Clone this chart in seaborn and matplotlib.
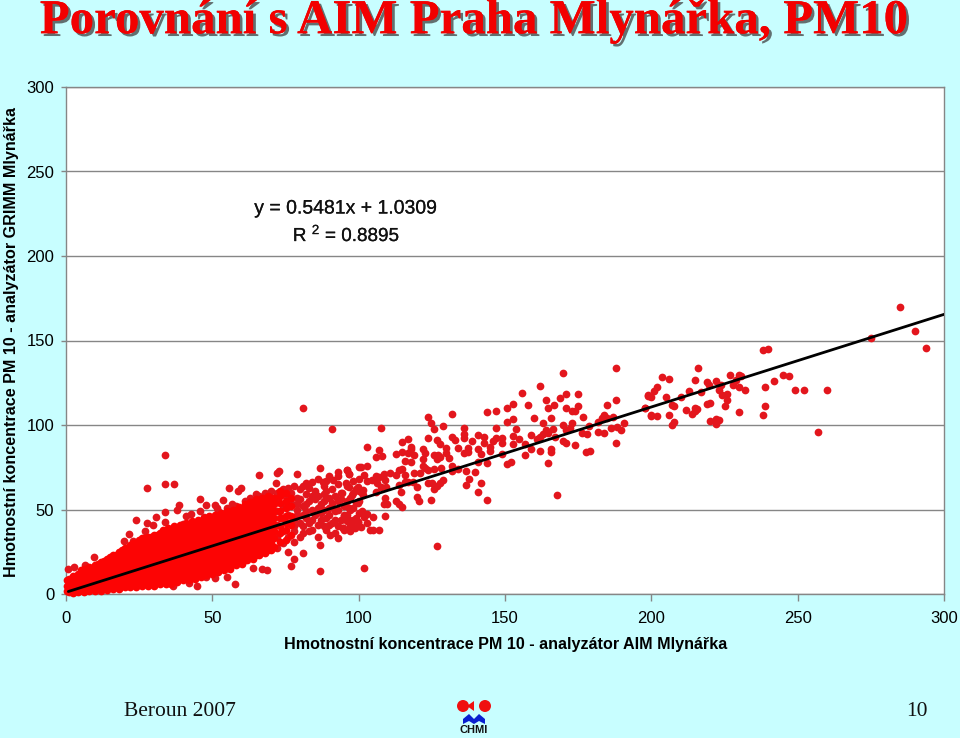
import matplotlib
matplotlib.use("Agg")
import matplotlib.pyplot as plt
import matplotlib.patheffects as pe
from matplotlib.patches import Ellipse, Polygon
import seaborn as sns
import pandas as pd

title = "Porovnání s AIM Praha Mlynářka, PM10"
xlabel = "Hmotnostní koncentrace PM 10 - analyzátor AIM Mlynářka"
ylabel = "Hmotnostní koncentrace PM 10 - analyzátor GRIMM Mlynářka"
ticks = [0, 50, 100, 150, 200, 250, 300]
slope = 0.5481
intercept = 1.0309
trend_x = [0.8, 300]

# the solid cloud, read column by column
dense_x = [0.5, 1, 2.5, 4, 6, 8, 10, 12, 14, 16, 18, 20, 22, 24, 26, 28, 30, 32, 34, 36, 38, 40, 42, 44, 46, 48,
           50, 52, 54, 56, 58, 60, 62, 64, 66, 68, 70]
dense_y = [
    [2, 5, 8],
    [1, 3, 5, 7, 9],
    [0.5, 3, 5.5, 8, 10.5],
    [1, 3, 6, 9, 12],
    [1, 4, 7, 10, 13, 15],
    [1.5, 4, 7, 10, 13, 16],
    [2, 5, 8, 11, 14, 17],
    [2, 5, 8, 11, 14, 17, 19],
    [2.5, 6, 9, 12, 15, 18, 21],
    [3, 6, 9, 12, 15, 18, 21, 23],
    [3, 6.5, 10, 13, 16, 19, 22, 25],
    [4, 7, 10, 13, 16, 19, 22, 25, 27],
    [4, 7, 10, 14, 17, 20, 23, 26, 29],
    [4, 8, 11, 14, 18, 21, 24, 27, 30],
    [5, 8, 12, 15, 18, 22, 25, 28, 31, 33],
    [5, 8, 12, 15, 19, 22, 25, 28, 31, 34],
    [5, 9, 12, 16, 20, 23, 26, 30, 33, 35],
    [6, 10, 13, 17, 20, 24, 27, 30, 33, 36],
    [6, 10, 14, 18, 21, 25, 28, 31, 34, 37],
    [6, 11, 15, 18, 22, 26, 29, 32, 35, 38],
    [7, 11, 15, 19, 23, 27, 30, 33, 36, 39],
    [8, 12, 16, 20, 24, 28, 31, 34, 37, 40],
    [8, 13, 17, 21, 25, 29, 32, 35, 38, 41],
    [9, 13, 17, 21, 25, 29, 33, 36, 39, 42],
    [10, 14, 18, 22, 26, 30, 34, 37, 40, 43],
    [11, 15, 19, 23, 27, 31, 35, 38, 41, 44],
    [12, 16, 20, 24, 28, 32, 36, 39, 42, 45],
    [13, 17, 21, 25, 29, 33, 37, 40, 43, 46],
    [14, 18, 22, 26, 30, 34, 38, 41, 44, 47],
    [15, 19, 23, 27, 31, 35, 39, 42, 45, 48],
    [17, 20, 24, 28, 32, 36, 40, 43, 46, 49],
    [18, 22, 26, 30, 34, 38, 42, 45, 48, 50],
    [20, 24, 28, 32, 36, 40, 44, 47, 50, 52],
    [21, 25, 29, 33, 37, 41, 45, 48, 51, 54],
    [23, 26, 30, 34, 38, 42, 46, 49, 52, 55],
    [24, 27, 31, 35, 39, 43, 47, 50, 53, 56],
    [26, 30, 35, 40, 44, 47, 50, 54, 57],
]

# same cloud, the columns in between
between_x = [3, 5, 7, 9, 11, 13, 15, 17, 19, 21, 23, 25, 27, 29, 31, 33, 35, 37, 39, 41, 43, 45, 47, 49, 51, 53, 55,
             57, 59, 61, 63, 65, 67, 69, 71, 73, 75, 77]
between_y = [
    [2, 4.5, 7, 10],
    [2.5, 5.5, 8.5, 11.5, 14],
    [3, 6, 9, 12, 15],
    [3.5, 6.5, 9.5, 12.5, 15.5],
    [3.5, 6.5, 9.5, 12.5, 15.5, 18],
    [4, 7.5, 10.5, 13.5, 16.5, 19.5],
    [4.5, 7.5, 10.5, 13.5, 16.5, 19.5, 22],
    [5, 8, 11, 14, 17, 20, 23],
    [5, 8.5, 11.5, 14.5, 17.5, 20.5, 23.5, 26],
    [5.5, 8.5, 12, 15, 18, 21, 24, 27],
    [6, 9, 12.5, 15.5, 19, 22, 25, 28, 30],
    [6.5, 10, 13, 16.5, 20, 23, 26, 29, 32],
    [6.5, 10, 14, 17, 20.5, 24, 27, 30, 33],
    [7, 10.5, 14, 18, 21, 24.5, 28, 31, 34],
    [7.5, 11.5, 15, 18.5, 22, 25.5, 28.5, 32, 35],
    [8, 12, 16, 19.5, 23, 26.5, 29.5, 32.5, 35.5, 38],
    [8.5, 12.5, 16.5, 20, 24, 27.5, 30.5, 33.5, 36.5, 39],
    [9, 13, 17, 21, 25, 28.5, 31.5, 34.5, 37.5, 40],
    [9.5, 13.5, 17.5, 21.5, 25.5, 29.5, 32.5, 35.5, 38.5, 41],
    [10, 14.5, 18.5, 22.5, 26.5, 30, 33.5, 36.5, 39.5, 42],
    [11, 15, 19, 23, 27, 31, 34.5, 37.5, 40.5, 43],
    [12, 15.5, 19.5, 23.5, 27.5, 31.5, 35.5, 38.5, 41.5, 44],
    [12.5, 16.5, 20.5, 24.5, 28.5, 32.5, 36.5, 39.5, 42.5, 45],
    [13.5, 18, 22, 26, 30, 34, 37.5, 40.5, 43.5, 46],
    [14.5, 19, 23, 27, 31, 35, 38.5, 41.5, 44.5, 47],
    [15.5, 20, 24, 28, 32, 36, 39.5, 42.5, 45.5, 48],
    [17, 21, 25, 29, 33, 37, 40.5, 43.5, 46.5, 49],
    [18, 22, 26, 30, 34, 38, 41.5, 44.5, 47.5, 50],
    [19, 23, 27, 31, 35, 39, 43, 46, 49, 51.5],
    [20, 24, 28, 32, 36, 40, 44, 47, 50, 53],
    [22, 26, 30, 34, 38, 42, 46, 49, 52, 54.5],
    [23, 27, 31, 35, 39, 43, 47, 50, 53, 56],
    [25, 29, 33, 37, 41, 45, 48.5, 51.5, 54.5, 57],
    [26, 30, 34, 38, 42, 46, 50, 53, 56, 58],
    [28, 33, 37, 41, 45, 49, 53, 57],
    [31, 36, 40, 45, 49, 54, 58, 61],
    [32, 38, 42, 46, 51, 55, 60],
    [35, 41, 46, 52, 57],
]

# loose dots around the cloud, x from 70 up to 100
fringe = [(72, 27), (72, 34), (72, 41), (72, 49), (72, 55), (73, 59), (74, 30), (74, 37), (74, 45), (74, 52), (75, 58),
          (76, 34), (76, 42), (76, 47), (77, 54), (77, 60), (78, 31), (78, 37), (78, 44), (79, 50), (79, 57), (80, 62),
          (80, 34), (81, 40), (81, 47), (82, 53), (82, 59), (83, 63), (83, 37), (84, 44), (84, 50), (85, 56), (85, 61),
          (86, 34), (86, 41), (87, 48), (87, 53), (88, 59), (88, 64), (89, 38), (89, 45), (90, 51), (90, 57), (91, 62),
          (91, 42), (92, 36), (92, 49), (93, 55), (93, 65), (94, 44), (94, 60), (95, 38), (95, 52), (96, 64), (96, 47),
          (97, 41), (97, 57), (98, 67), (98, 51), (99, 45), (99, 62), (100, 55), (100, 68), (101, 49), (101, 60),
          (78, 40), (79, 47), (79, 53), (80, 42), (80, 56), (81, 36), (81, 52), (82, 45), (82, 49), (83, 42), (83, 55),
          (84, 38), (84, 58), (85, 47), (86, 51), (86, 58), (87, 44), (88, 40), (88, 50), (88, 55), (89, 61), (90, 41),
          (90, 47), (91, 54), (92, 44), (92, 58), (93, 40), (93, 50), (94, 56), (95, 47), (96, 43), (96, 55), (97, 50),
          (98, 44), (98, 60), (99, 54), (100, 48), (100, 61), (52, 49), (55, 51), (58, 52), (61, 55), (63, 57), (66, 58),
          (68, 60), (70, 61), (72, 60), (74, 62), (76, 63), (78, 64), (81, 64), (84, 66), (86, 68), (89, 67), (90, 70),
          (93, 72)]

outliers = [(80.9, 109.9), (90.8, 97.4), (33.7, 82.5), (27.8, 62.5), (33.7, 65.1), (36.8, 65.1), (65.8, 70.4),
            (72, 71.4), (72.9, 73), (78.8, 71), (86.8, 74.6), (71.8, 65.5), (55.8, 62.5), (58.9, 61.2), (59.8, 62.5),
            (45.8, 56.4), (53.8, 55.6), (64.8, 59.2), (95.9, 73.4), (96.8, 71), (100.1, 75.4), (92.8, 69.8),
            (91.4, 67.5), (87.8, 66.1), (81.9, 65.9), (38.7, 52.9), (47.7, 52.7), (50.8, 52.9), (51.7, 50.7),
            (56.8, 53.1), (33.7, 48.7), (37.8, 49.7), (23.8, 43.8), (30.9, 45.8), (41, 46.2), (42.8, 47.4),
            (45.8, 49.3), (47, 45.4), (27.8, 42.2), (29.8, 40.8), (33.7, 42.8), (39.9, 41.4), (21.6, 35.5),
            (26.9, 37.1), (19.7, 31.2), (22.8, 31.4), (9.7, 21.7), (2.7, 16.2), (0.8, 15), (6.6, 17.2), (86.8, 13.8),
            (76.8, 16.8), (77.9, 20.7), (68.8, 14.2), (66.9, 14.8), (63.8, 15.2), (57.9, 6.1), (44.8, 4.8),
            (50.8, 9.3), (54.9, 9.9), (47.7, 10.3), (36.7, 4.8), (41.9, 6.5), (75.7, 24.9), (80.9, 24.1), (86.8, 29.2),
            (92.8, 33), (90.2, 35), (94.8, 38.9), (99.9, 42.8), (97, 37.5)]

# middle part of the chart, x from 94 to 200
middle = [(187.9, 133.5), (169.9, 130.8), (161.9, 123.1), (155.8, 118.7), (170.9, 118.4), (174.9, 118.2),
          (168.9, 115.8), (163.9, 114.6), (187.9, 114.8), (166.8, 111.8), (157.9, 112), (152.8, 112.4), (150.8, 109.9),
          (146.9, 108.3), (143.8, 107.9), (164.8, 110.1), (170.9, 110.3), (173, 108.5), (174, 108.5), (174.9, 111),
          (184.9, 111.6), (131.9, 106.5), (123.8, 105), (124.8, 101.2), (128.9, 99.4), (125.8, 97.4), (107.8, 98.2),
          (136, 98.2), (146.9, 98.2), (150.8, 101.8), (152.8, 103.4), (160, 104.4), (162.9, 101.4), (165.8, 104.4),
          (153.9, 97.6), (158.9, 94.3), (152.8, 93.3), (154.9, 91.5), (140.9, 94.1), (142.8, 92.7), (136, 94.5),
          (136, 92.5), (131.9, 92.9), (132.9, 91.1), (138.8, 90.5), (146.9, 92.3), (145.9, 90.7), (148.9, 92.3),
          (148.9, 89.6), (142.8, 89.2), (144.9, 87.2), (144.9, 84.6), (152.8, 88.6), (156.9, 88.6), (158.9, 85.8),
          (161.9, 84.4), (165.8, 85.8), (165.8, 84), (156.9, 82.5), (148.9, 83.1), (123.8, 92.1), (126.7, 91.1),
          (127.8, 88.6), (116.8, 91.5), (114.8, 89.8), (117.9, 87.2), (117.9, 85.8), (102.8, 87.2), (106.9, 85),
          (105.9, 81.3), (108, 81.9), (112.7, 82.9), (114.8, 84), (116.8, 83.3), (118.9, 82.5), (122, 85.8),
          (122.8, 83.3), (122, 80.1), (115.8, 78.9), (117.9, 78.3), (129.8, 86.2), (129.8, 83.6), (130.8, 80.3),
          (133.9, 86.4), (136, 83.3), (137.2, 86.2), (137.2, 84.2), (140.9, 85.6), (141.8, 82.7), (140.9, 78.3),
          (143.8, 77.7), (125.7, 82.3), (127.2, 82.3), (126.6, 79.7), (127.8, 80.9), (150.8, 77.1), (151.9, 78.1),
          (164.8, 77.7), (177.8, 84), (179, 84.6), (174, 88.4), (187.9, 89.2), (171, 89.2), (169.9, 90.3), (161, 91.5),
          (161.9, 93.1), (162.9, 94.5), (163.9, 97.1), (164.8, 95.1), (166.5, 97.4), (167, 92.7), (169.9, 100),
          (171, 97.1), (173, 101.4), (172.2, 98), (176.7, 104.5), (176.2, 95.5), (177.9, 94.7), (178.8, 99.4),
          (181.9, 102), (181.9, 96), (183.9, 95.1), (183.9, 106), (183, 104), (184.9, 104), (187, 105), (186.1, 98),
          (190.8, 101), (189.8, 97), (188.1, 98.6), (199, 117.4), (197.9, 109.9), (200, 105.3), (167.9, 58.6),
          (126.7, 28.4), (101.8, 15.4), (143.8, 55.4), (140.9, 60.2), (136.8, 64.3), (137.8, 67.9), (141.9, 65.5),
          (139.7, 72.2), (136.8, 73), (131.9, 75.8), (133.9, 73.8), (131.9, 73), (128.9, 67.5), (127.8, 65.5),
          (125.8, 62.2), (126.9, 64), (124.8, 55.6), (124.9, 65.5), (123.8, 65.5), (120.7, 55.2), (119.9, 57.6),
          (119.9, 63.1), (118.9, 71.8), (120.9, 71.8), (122.8, 74.4), (122, 75.8), (123.8, 73.4), (125.8, 73.8),
          (128.1, 74.6), (114.8, 74), (113.8, 73.4), (115.8, 70.4), (112.7, 70.4), (110.7, 71.4), (108.6, 71),
          (106.9, 69.4), (105.9, 69.8), (104.5, 67.5), (102.8, 66.9), (101.8, 70.4), (100.8, 75.2), (102.8, 75.8),
          (95.9, 73.4), (96.7, 71), (113.9, 64.5), (115.8, 66.5), (116.9, 66.5), (118.4, 66.5), (114.3, 60.6),
          (109, 56.6), (108.6, 53.3), (109.8, 53.3), (112.7, 55.3), (113.9, 53.3), (114.8, 51.7), (109, 46.4),
          (106.9, 37.9), (104.9, 37.9), (103.9, 37.9), (104.9, 45.6), (102.8, 47.2), (101.8, 45.6), (102.8, 42.2),
          (100.8, 39.5), (98.7, 38.9), (99.8, 42.8), (97.7, 42.8), (96.7, 43.8), (95, 46.4), (97, 38.9), (94.7, 39.3),
          (96.7, 50.7), (99.9, 53.7), (97.7, 58.6), (101.6, 61.6), (101.6, 58.6), (99.9, 63.5), (105.9, 60.6),
          (107.8, 63.5), (109.5, 63.5), (106.1, 65.5), (109, 67.5), (96.7, 63.5), (95.6, 65.5), (94.2, 59.6)]

# right hand part, x above 196
high = [(285, 170), (290.1, 155.8), (294, 145.4), (275, 151.7), (238, 144.2), (240, 144.8), (215.8, 133.9),
        (203.8, 128.6), (205.9, 127), (202, 122.3), (201, 120), (199, 117.6), (200, 116.8), (204.9, 116.4),
        (197.8, 110), (200, 106), (202, 105.6), (205.9, 106), (206.9, 111.7), (207.8, 111), (210, 116.4), (213, 120.1),
        (214.9, 126.7), (216.8, 119.8), (218.9, 125.7), (219.8, 123.5), (222, 126.3), (223.9, 123.9), (223, 120.5),
        (224, 117.8), (226, 118.6), (226, 114.8), (225, 111), (227, 129.4), (229.8, 129.4), (230.8, 129),
        (228.9, 126.7), (228, 123.7), (229.9, 122.5), (232, 120.7), (239, 122.7), (241.9, 126.3), (245, 129.4),
        (247, 129.2), (249, 121), (252, 121), (260, 120.5), (257, 95.7), (239, 111.3), (238, 106.2), (230, 107.5),
        (219.9, 102.4), (222, 103.6), (223, 102.8), (222, 100.6), (219.9, 113.2), (218.9, 112.5), (215.7, 109.7),
        (214.9, 110.1), (214.9, 108.5), (214, 106.7), (212, 109.1), (207.8, 102), (206.9, 100.2)]

sns.set_theme(style="white")
plt.rcParams["font.family"] = ["Liberation Sans", "DejaVu Sans"]
plt.rcParams["mathtext.default"] = "regular"

bg = "#C8FEFF"
grey = "#868686"

fig = plt.figure(figsize=(9.6, 7.38), dpi=100, facecolor=bg)
ax = fig.add_axes([66 / 960, 1 - 594 / 738, 878 / 960, 507 / 738], facecolor="white")

cloud_x = dense_x + between_x
cloud_y = dense_y + between_y
dense = pd.DataFrame({"x": [x for x, ys in zip(cloud_x, cloud_y) for _ in ys],
                      "y": [y for ys in cloud_y for y in ys]})
loose = pd.DataFrame(fringe + outliers + middle + high, columns=["x", "y"])
trend = pd.DataFrame({"x": trend_x, "y": [slope * x + intercept for x in trend_x]})

sns.scatterplot(data=loose, x="x", y="y", color="#E3161D", s=31, linewidth=0, ax=ax, zorder=3, clip_on=False)
sns.scatterplot(data=dense, x="x", y="y", color="#FC0404", s=31, linewidth=0, ax=ax, zorder=3, clip_on=False)
sns.lineplot(data=trend, x="x", y="y", color="black", linewidth=2, ax=ax, zorder=4)

ax.set_xlim(0, 300)
ax.set_ylim(0, 300)
ax.set_xticks(ticks)
ax.set_yticks(ticks)
ax.grid(axis="y", color=grey, linewidth=1)
ax.set_axisbelow(True)
ax.tick_params(axis="y", length=3.5, width=1, color=grey, labelsize=12, labelcolor="black", left=True, pad=5)
ax.tick_params(axis="x", length=5, width=1, color=grey, labelsize=12, labelcolor="black", bottom=True, pad=7)
for side in ax.spines.values():
    side.set_color(grey)
    side.set_linewidth(1)

ax.set_xlabel("")
ax.set_ylabel("")
fig.text(505.5 / 960, 1 - 645 / 738, xlabel, ha="center", va="center", fontsize=11.65, fontweight="bold", color="black")
fig.text(12 / 960, 1 - 342 / 738, ylabel, rotation=90, ha="center", va="center", fontsize=11.65, fontweight="bold",
         color="black")

eq_style = [pe.withStroke(linewidth=0.15, foreground="#111111")]
fig.text(346 / 960, 1 - 209 / 738, f"y = {slope}x + {intercept}", ha="center", va="center", fontsize=14,
         color="#111111", path_effects=eq_style)
fig.text(346.5 / 960, 1 - 235 / 738, "R $^{2}$ = 0.8895", ha="center", va="center", fontsize=13.6, color="#111111",
         path_effects=eq_style)

head = fig.text(474 / 960, 1 - 21 / 738, title, ha="center", va="center", fontsize=35.2, fontweight="bold",
                family="Liberation Serif", color="#F20000")
head.set_path_effects([pe.withSimplePatchShadow(offset=(2, -2), shadow_rgbFace="#404040", alpha=0.75), pe.Normal()])

fig.text(124 / 960, 1 - 711 / 738, "Beroun 2007", ha="left", va="center", fontsize=15.5, family="Liberation Serif",
         color="#111111")
fig.text(928 / 960, 1 - 712 / 738, "10", ha="right", va="center", fontsize=15.5, family="Liberation Serif",
         color="#111111")

# CHMI logo
logo = fig.add_axes([450 / 960, 1 - 738 / 738, 50 / 960, 42 / 738], facecolor="none")
logo.set_xlim(450, 500)
logo.set_ylim(738, 696)
logo.axis("off")
logo.add_patch(Ellipse((463, 706), 12, 12, color="#F01010", lw=0))
logo.add_patch(Polygon([(467, 706), (474, 701), (474, 711)], color="#F01010", lw=0))
logo.add_patch(Ellipse((485, 706), 12, 12, color="#F01010", lw=0))
logo.add_patch(Polygon([(463, 724), (463, 719), (469, 714), (474, 719), (479, 714), (485, 719), (485, 724), (479, 721),
                        (474, 724), (469, 721)], color="#0A1FD0", lw=0))
logo.text(474, 730, "CHMI", ha="center", va="center", fontsize=8, fontweight="bold", color="#111111")

fig.savefig("out.png", dpi=100, facecolor=bg)
